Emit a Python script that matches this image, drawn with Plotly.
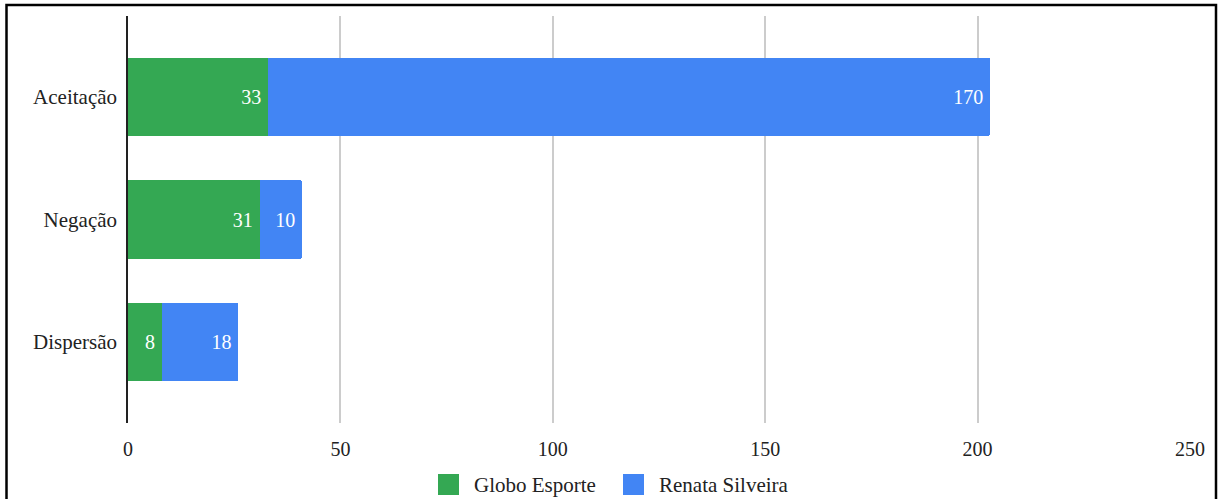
import plotly.graph_objects as go

categories = ["Aceitação", "Negação", "Dispersão"]
globo_esporte = [33, 31, 8]
renata_silveira = [170, 10, 18]
x_ticks = [0, 50, 100, 150, 200, 250]
series_names = ["Globo Esporte", "Renata Silveira"]

GREEN = "#34a853"
BLUE = "#4285f4"
FONT = "Liberation Serif"
TXT = "#222222"

L, R, T, B = 128, 30, 16, 76
W, H = 1220, 499
PW, PH = W - L - R, H - T - B


def px_x(px):
    return (px - L) / PW


def px_y(py):
    return (H - B - py) / PH


fig = go.Figure()
for name, vals, col in [(series_names[0], globo_esporte, GREEN),
                        (series_names[1], renata_silveira, BLUE)]:
    fig.add_trace(go.Bar(
        y=categories, x=vals, name=name, orientation="h",
        marker=dict(color=col, line=dict(width=0)),
        text=vals, texttemplate="%{text}\u2009", textposition="inside",
        insidetextanchor="end",
        textfont=dict(color="white", size=20, family=FONT),
        showlegend=False,
    ))

# custom legend (20px squares, as in the reference)
shapes = []
annotations = []
for name, col, sq_x in [(series_names[0], GREEN, 438), (series_names[1], BLUE, 623)]:
    shapes.append(dict(type="rect", xref="paper", yref="paper",
                       x0=px_x(sq_x), x1=px_x(sq_x + 21), y0=px_y(495), y1=px_y(474),
                       fillcolor=col, line=dict(width=0)))
    annotations.append(dict(text=name, xref="paper", yref="paper",
                            x=px_x(sq_x + 34), y=px_y(485), xanchor="left", yanchor="middle",
                            showarrow=False, font=dict(size=21, color=TXT, family=FONT)))

shapes.append(dict(type="rect", xref="paper", yref="paper",
                   x0=px_x(6.5), x1=px_x(1216), y0=px_y(520), y1=px_y(5),
                   line=dict(color="black", width=2.5), fillcolor="rgba(0,0,0,0)",
                   layer="above"))

fig.update_layout(
    width=W, height=H,
    barmode="stack", bargap=0.36, barcornerradius=3,
    plot_bgcolor="white", paper_bgcolor="white",
    font=dict(family=FONT, size=20, color=TXT),
    margin=dict(l=L, r=R, t=T, b=B, autoexpand=False),
    showlegend=False,
    xaxis=dict(range=[0, 250], tickvals=x_ticks, showgrid=True, gridcolor="#cccccc",
               gridwidth=1.5, zeroline=False, showline=False, ticks="",
               tickfont=dict(size=20, color=TXT, family=FONT), ticklabelstandoff=12),
    yaxis=dict(categoryorder="array", categoryarray=categories[::-1],
               range=[-0.66, 2.66], showgrid=False, zeroline=False,
               showline=True, linecolor=TXT, linewidth=1.5, ticks="",
               tickfont=dict(size=21, color=TXT, family=FONT), ticklabelstandoff=5),
    shapes=shapes,
    annotations=annotations,
)

fig.write_html("out.html")
